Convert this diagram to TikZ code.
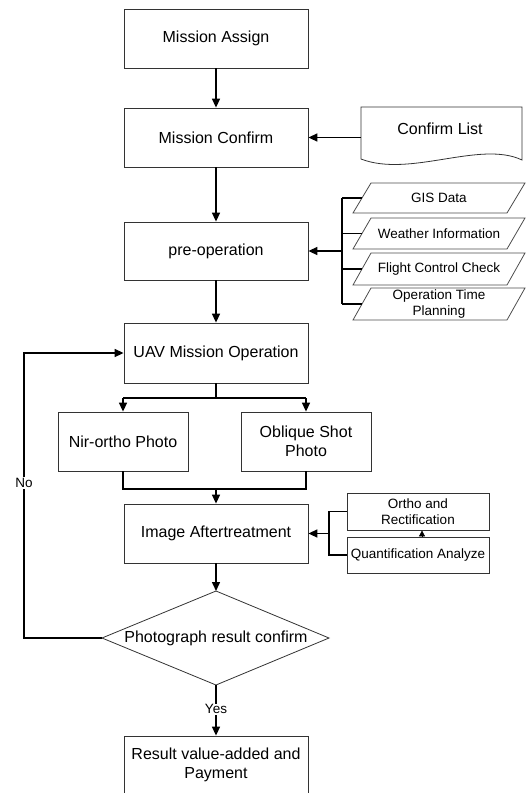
\documentclass[tikz,border=0pt]{standalone}
\usepackage{fontspec}
\setmainfont{Liberation Sans}
\usetikzlibrary{arrows.meta,calc}
\begin{document}
\begin{tikzpicture}[x=1pt,y=-1pt,
  box/.style={draw=black!80,line width=0.8pt,rectangle,align=center,inner sep=0pt,font=\fontsize{16}{19}\selectfont},
  sbox/.style={draw=black!80,line width=0.8pt,rectangle,align=center,inner sep=0pt,font=\fontsize{13.5}{15.5}\selectfont},
  conn/.style={line width=1.5pt,black},
  arr/.style={conn,-{Triangle[length=9pt,width=8pt]}},
  lbl/.style={font=\fontsize{13.5}{15}\selectfont,fill=white,inner sep=1pt},
  ptxt/.style={font=\fontsize{13.5}{15.5}\selectfont,align=center,inner sep=0pt},
  pshape/.style={draw=black!70,line width=0.8pt}
]
\useasboundingbox (0,0) rectangle (528,793);
\clip (0,0) rectangle (528,793);

% main column
\node[box,minimum width=184pt,minimum height=59pt] (assign) at (216,38.5) {Mission Assign};
\node[box,minimum width=184pt,minimum height=59pt] (confirm) at (216,137.5) {Mission Confirm};
\node[box,minimum width=184pt,minimum height=58pt] (preop) at (216,251) {pre-operation};
\node[box,minimum width=184pt,minimum height=60pt] (uav) at (216,353) {UAV Mission Operation};
\node[box,minimum width=130pt,minimum height=59pt] (nir) at (123,441.5) {Nir-ortho Photo};
\node[box,minimum width=130pt,minimum height=59pt] (obl) at (306,441.5) {Oblique Shot\\Photo};
\node[box,minimum width=184pt,minimum height=59pt] (after) at (216,533.5) {Image Aftertreatment};
\node[sbox,minimum width=142pt,minimum height=37pt] (ortho) at (418,511.5) {Ortho and\\Rectification};
\node[sbox,minimum width=142pt,minimum height=36pt] (quant) at (418,555) {Quantification Analyze};
\node[box,minimum width=184pt,minimum height=58pt] (result) at (216,765) {Result value-added and\\Payment};

% decision diamond
\coordinate (diaT) at (216,591);
\coordinate (diaR) at (329,638);
\coordinate (diaB) at (216,685);
\coordinate (diaL) at (102,638);
\draw[draw=black!80,line width=0.8pt] (diaT) -- (diaR) -- (diaB) -- (diaL) -- cycle;
\node[font=\fontsize{16}{19}\selectfont,inner sep=0pt] (dia) at (216,638) {Photograph result confirm};

% confirm list document
\draw[draw=black!80,line width=0.8pt] (361,107) -- (522,107) -- (522,160)
  .. controls (480,140) and (410,178) .. (361,159) -- cycle;
\node[font=\fontsize{16}{19}\selectfont,inner sep=0pt] (clist) at (440,129) {Confirm List};
\coordinate (clistL) at (361,137.5);

% parallelograms
\draw[pshape] (353,213) -- (371,183) -- (525,183) -- (507,213) -- cycle;
\node[ptxt] (gis) at (439,198) {GIS Data};
\coordinate (gisL) at (362,198);
\draw[pshape] (353,249) -- (371,218) -- (525,218) -- (507,249) -- cycle;
\node[ptxt] (weather) at (439,233.5) {Weather Information};
\coordinate (weatherL) at (362,233.5);
\draw[pshape] (353,285) -- (371,253) -- (525,253) -- (507,285) -- cycle;
\node[ptxt] (flight) at (439,269) {Flight Control Check};
\coordinate (flightL) at (362,269);
\draw[pshape] (353,320) -- (371,288) -- (525,288) -- (507,320) -- cycle;
\node[ptxt] (optime) at (439,304) {Operation Time\\Planning};
\coordinate (optimeL) at (362,304);

% bracket for parallelograms
\coordinate (bk1) at (342,198);
\coordinate (bk2) at (342,233.5);
\coordinate (bk3) at (342,269);
\coordinate (bk4) at (342,304);
\coordinate (bkm) at (342,251);
\draw[conn] (bk1) -- (bk4);
\draw[conn] (bk1) -- (gisL);
\draw[conn] (bk2) -- (weatherL);
\draw[conn] (bk3) -- (flightL);
\draw[conn] (bk4) -- (optimeL);
\draw[arr] (bkm) -- (preop.east);

% main flow
\draw[arr] (assign.south) -- (confirm.north);
\draw[arr] (clistL) -- (confirm.east);
\draw[arr] (confirm.south) -- (preop.north);
\draw[arr] (preop.south) -- (uav.north);

% split
\coordinate (spC) at (216,398);
\coordinate (spL) at (123,398);
\coordinate (spR) at (306,398);
\draw[conn] (uav.south) -- (spC);
\draw[conn] (spL) -- (spR);
\draw[arr] (spL) -- (nir.north);
\draw[arr] (spR) -- (obl.north);

% merge
\coordinate (mgL) at (123,489);
\coordinate (mgR) at (306,489);
\coordinate (mgC) at (216,489);
\draw[conn] (nir.south) -- (mgL) -- (mgR) -- (obl.south);
\draw[arr] (mgC) -- (after.north);

% aftertreatment inputs
\coordinate (abT) at (329,511.5);
\coordinate (abB) at (329,555);
\coordinate (abM) at (329,533.5);
\draw[conn] (ortho.west) -- (abT) -- (abB) -- (quant.west);
\draw[arr] (abM) -- (after.east);
\coordinate (qa) at (422,0);
\draw[line width=0.8pt,-{Triangle[length=6pt,width=6pt]}] (quant.north -| qa) -- (ortho.south -| qa);

% decision
\draw[arr] (after.south) -- (diaT);
\draw[arr] (diaB) -- node[lbl,pos=0.48] {Yes} (result.north);
\coordinate (loopA) at (24,638);
\coordinate (loopB) at (24,353);
\draw[arr] (diaL) -- (loopA) -- node[lbl,pos=0.544] {No} (loopB) -- (uav.west);
\end{tikzpicture}
\end{document}
